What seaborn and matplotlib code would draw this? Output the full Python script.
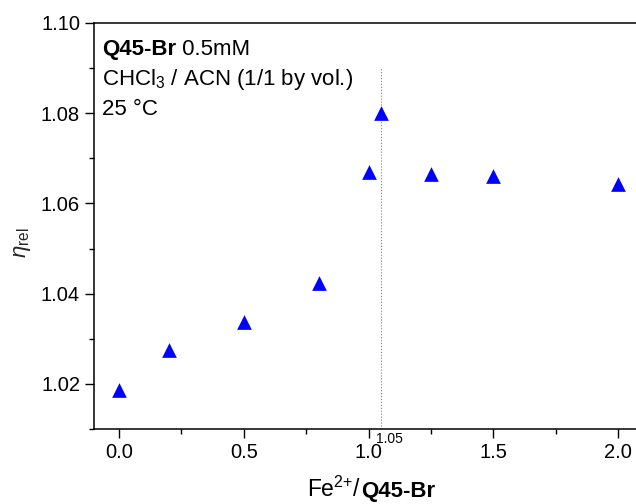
import matplotlib
matplotlib.use("Agg")
import matplotlib.pyplot as plt
import matplotlib.ticker as mticker
import pandas as pd
import seaborn as sns

# Datos
ratio = [0.0, 0.2, 0.5, 0.8, 1.0, 1.05, 1.25, 1.5, 2.0]
eta_rel = [1.0187, 1.0275, 1.0337, 1.0423, 1.0669, 1.0800, 1.0665, 1.0660, 1.0644]
marker_x = 1.05
marker_top = 1.09
x_limits = (-0.1, 2.071)
y_limits = (1.01, 1.10)

data = pd.DataFrame({"ratio": ratio, "eta": eta_rel})

sns.set_style("ticks")
plt.rcParams["font.family"] = ["Liberation Sans", "DejaVu Sans"]
plt.rcParams["mathtext.fontset"] = "custom"
plt.rcParams["mathtext.rm"] = "Liberation Sans"
plt.rcParams["mathtext.it"] = "Liberation Sans:italic"
plt.rcParams["mathtext.bf"] = "Liberation Sans:bold"
plt.rcParams["text.color"] = "black"

fig = plt.figure(figsize=(6.36, 5.04), dpi=100)
ax = fig.add_axes([0.1478, 0.1488, 1 - 0.1478, 0.9544 - 0.1488])

sns.scatterplot(
    data=data,
    x="ratio",
    y="eta",
    marker="^",
    color="#0000ff",
    s=112,
    linewidth=0,
    ax=ax,
    zorder=3,
)

ax.vlines(marker_x, y_limits[0], marker_top, colors="#808080", linestyles=":", linewidth=0.8, zorder=2)
ax.annotate(
    f"{marker_x:.2f}",
    xy=(marker_x, 0),
    xycoords=ax.get_xaxis_transform(),
    xytext=(-5, -10),
    textcoords="offset pixels",
    ha="left",
    va="center",
    fontsize=10,
)

ax.set_xlim(*x_limits)
ax.set_ylim(*y_limits)
ax.xaxis.set_major_locator(mticker.MultipleLocator(0.5))
ax.xaxis.set_minor_locator(mticker.MultipleLocator(0.25))
ax.yaxis.set_major_locator(mticker.MultipleLocator(0.02))
ax.yaxis.set_minor_locator(mticker.MultipleLocator(0.01))
ax.xaxis.set_major_formatter(mticker.FormatStrFormatter("%.1f"))
ax.yaxis.set_major_formatter(mticker.FormatStrFormatter("%.2f"))
ax.tick_params(which="major", length=6.5, width=1, labelsize=14.5, color="black", labelcolor="black")
ax.tick_params(which="minor", length=3.5, width=1, color="black")

for side in ["left", "bottom", "top"]:
    ax.spines[side].set_color("black")
    ax.spines[side].set_linewidth(1.1)
ax.spines["right"].set_visible(False)

# Etiquetas de ejes
ax.set_ylabel(r"$\eta_{\rm rel}$", fontsize=16)
ax.yaxis.set_label_coords(-0.112, 0.46)
ax.set_xlabel("")
xlab = ax.text(0.493, -0.168, "Fe$^{2{+}}$/ ", transform=ax.transAxes, ha="right", va="baseline", fontsize=16.5)
ax.annotate("Q45-Br", xy=(1, 0), xycoords=xlab, ha="left", va="bottom", fontsize=16, fontweight="bold")

# Texto de condiciones
title = ax.text(0.0142, 0.921, "Q45-Br", transform=ax.transAxes, ha="left", va="baseline",
                fontsize=16, fontweight="bold")
ax.annotate(" 0.5mM", xy=(1, 0), xycoords=title, ha="left", va="bottom", fontsize=16)
ax.text(0.0142, 0.847, "CHCl$_3$ / ACN (1/1 by vol.)", transform=ax.transAxes, ha="left",
        va="baseline", fontsize=16)
ax.text(0.0142, 0.773, "25 °C", transform=ax.transAxes, ha="left", va="baseline", fontsize=16)

fig.savefig("out.png", dpi=100)
plt.close(fig)
